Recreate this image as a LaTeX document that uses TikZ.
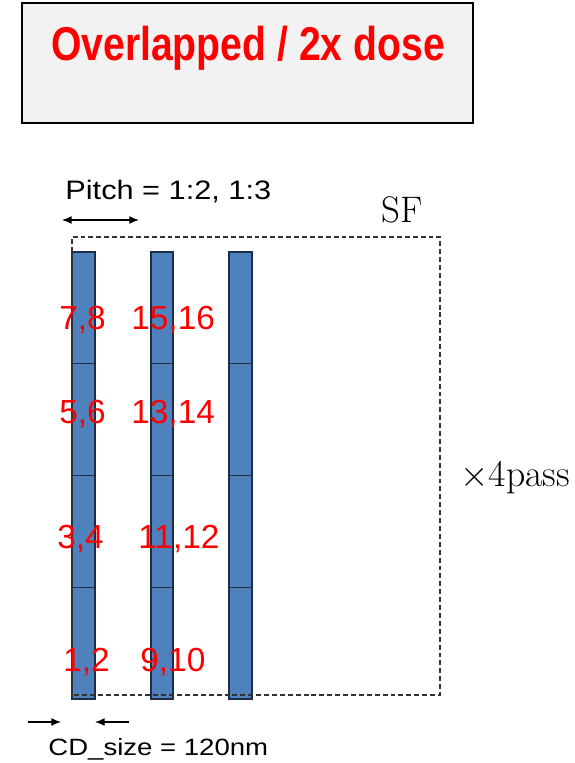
\documentclass[tikz,border=0pt]{standalone}
\usepackage{fontspec}
\setmainfont{Latin Modern Roman}
\newfontfamily\arialfont{Liberation Sans}
\usetikzlibrary{arrows.meta}
\definecolor{barblue}{RGB}{79,129,189}
\definecolor{barline}{RGB}{30,45,70}
\definecolor{boxgray}{RGB}{242,242,242}
\tikzset{
  titlebox/.style={draw=black, fill=boxgray, line width=0.8pt},
  barseg/.style={draw=barline, fill=barblue, line width=0.7pt},
  sfframe/.style={draw=black!80, dash pattern=on 2.8pt off 1.7pt, line width=0.65pt},
  dimarrow/.style={line width=0.7pt, -{Latex[length=5.5pt,width=4.5pt]}},
  shotlabel/.style={anchor=base west, inner sep=0pt, text=red, font=\arialfont\fontsize{19}{22}\selectfont},
}
\begin{document}
\begin{tikzpicture}
                    \useasboundingbox (0,0) rectangle (11.500000,15.260000);
                    {

                    % Drawing title box
                    \draw [titlebox] (0.440000,15.200000) rectangle (9.460000,12.800000);%
                    \draw (4.960000,14.040000) node (title) [anchor=base, inner sep=0pt, xscale=0.825, text=red, font=\arialfont\bfseries\fontsize{27}{32}\selectfont] {Overlapped / 2x dose};%

                    % Marking pitch
                    \draw (1.300000,11.260000) node (pitch) [anchor=base west, inner sep=0pt, xscale=1.15, font=\arialfont\fontsize{15.2}{18}\selectfont] {Pitch = 1:2, 1:3};%
                    \coordinate (pitchL) at (1.240000,10.860000);%
                    \coordinate (pitchR) at (2.780000,10.860000);%
                    \draw [dimarrow, {Latex[length=5.5pt,width=4.5pt]}-{Latex[length=5.5pt,width=4.5pt]}] (pitchL) -- (pitchR);%

                    % Drawing bar 1
                    \draw [barseg] (1.440000,1.280000) rectangle (1.900000,3.515000);%
                    \draw [barseg] (1.440000,3.515000) rectangle (1.900000,5.750000);%
                    \draw [barseg] (1.440000,5.750000) rectangle (1.900000,7.985000);%
                    \draw [barseg] (1.440000,7.985000) rectangle (1.900000,10.220000);%

                    % Drawing bar 2
                    \draw [barseg] (3.020000,1.280000) rectangle (3.460000,3.515000);%
                    \draw [barseg] (3.020000,3.515000) rectangle (3.460000,5.750000);%
                    \draw [barseg] (3.020000,5.750000) rectangle (3.460000,7.985000);%
                    \draw [barseg] (3.020000,7.985000) rectangle (3.460000,10.220000);%

                    % Drawing bar 3
                    \draw [barseg] (4.580000,1.280000) rectangle (5.040000,3.515000);%
                    \draw [barseg] (4.580000,3.515000) rectangle (5.040000,5.750000);%
                    \draw [barseg] (4.580000,5.750000) rectangle (5.040000,7.985000);%
                    \draw [barseg] (4.580000,7.985000) rectangle (5.040000,10.220000);%

                    % Drawing subfield frame
                    \draw [sfframe] (1.440000,1.360000) rectangle (8.800000,10.520000);%
                    \draw (7.620000,10.800000) node (sf) [anchor=base west, inner sep=0pt, font=\fontsize{21}{25}\selectfont] {SF};%
                    \draw (9.200000,5.520000) node (pass) [anchor=base west, inner sep=0pt, font=\fontsize{21.5}{25}\selectfont] {$\times$4pass};%

                    % Marking shot numbers
                    \draw (1.180000,8.660000) node (s78) [shotlabel] {7,8};%
                    \draw (2.620000,8.660000) node (s1516) [shotlabel] {15,16};%
                    \draw (1.180000,6.780000) node (s56) [shotlabel] {5,6};%
                    \draw (2.620000,6.780000) node (s1314) [shotlabel] {13,14};%
                    \draw (1.140000,4.280000) node (s34) [shotlabel] {3,4};%
                    \draw (2.760000,4.280000) node (s1112) [shotlabel] {11,12};%
                    \draw (1.260000,1.820000) node (s12) [shotlabel] {1,2};%
                    \draw (2.800000,1.820000) node (s910) [shotlabel] {9,10};%

                    % Marking CD size
                    \coordinate (cdLa) at (0.560000,0.820000);%
                    \coordinate (cdLb) at (1.220000,0.820000);%
                    \coordinate (cdRa) at (2.580000,0.820000);%
                    \coordinate (cdRb) at (1.900000,0.820000);%
                    \draw [dimarrow] (cdLa) -- (cdLb);%
                    \draw [dimarrow] (cdRa) -- (cdRb);%
                    \draw (0.960000,0.140000) node (cd) [anchor=base west, inner sep=0pt, xscale=1.17, font=\arialfont\fontsize{13.4}{16}\selectfont] {CD\_size = 120nm};%
                    }
\end{tikzpicture}
\end{document}
